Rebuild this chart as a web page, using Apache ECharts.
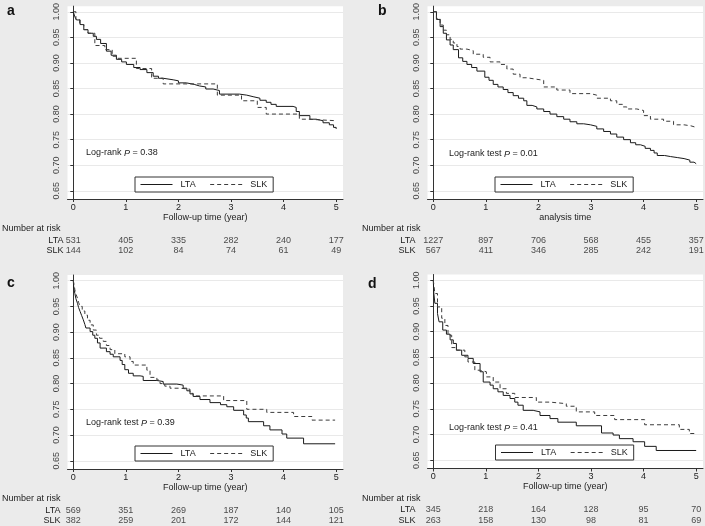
<!DOCTYPE html>
<html>
<head>
<meta charset="utf-8">
<script src="https://cdn.jsdelivr.net/npm/echarts@6/dist/echarts.min.js"></script>
<style>
  html, body { margin: 0; padding: 0; background: #ebebeb; }
  #main { width: 705px; height: 526px; }
</style>
</head>
<body>
<div id="main"></div>
<script>
// survival curves, [years, proportion surviving]
var aLTA = [[0,1],[0.03,0.99],[0.06,0.984],[0.13,0.975],[0.2,0.965],[0.28,0.958],[0.38,0.952],[0.44,0.946],
  [0.52,0.938],[0.63,0.923],[0.72,0.915],[0.82,0.907],[0.92,0.902],[1.01,0.897],[1.15,0.891],[1.27,0.887],
  [1.4,0.881],[1.52,0.874],[1.62,0.87],[1.71,0.867],[1.9,0.865],[2.0,0.861],[2.15,0.858],[2.3,0.855],
  [2.4,0.853],[2.52,0.849],[2.66,0.846],[2.78,0.839],[3.16,0.837],[3.3,0.834],[3.42,0.831],[3.55,0.827],
  [3.67,0.823],[3.76,0.819],[3.86,0.815],[4.18,0.813],[4.24,0.805],[4.3,0.797],[4.5,0.79],[4.62,0.787],
  [4.75,0.783],[4.87,0.779],[4.95,0.774],[5.0,0.771]];
var aSLK = [[0,1],[0.05,0.985],[0.12,0.975],[0.2,0.965],[0.28,0.958],[0.41,0.934],[0.6,0.926],[0.74,0.913],
  [0.82,0.909],[1.2,0.889],[1.49,0.87],[1.71,0.859],[2.74,0.837],[3.2,0.826],[3.5,0.813],[3.67,0.8],
  [4.3,0.79],[4.45,0.787],[5.0,0.787]];

var bLTA = [[0,1],[0.06,0.985],[0.13,0.971],[0.19,0.958],[0.25,0.945],[0.32,0.935],[0.38,0.926],[0.48,0.91],
  [0.56,0.903],[0.64,0.897],[0.73,0.891],[0.83,0.884],[0.98,0.872],[1.06,0.866],[1.14,0.858],[1.23,0.853],
  [1.33,0.848],[1.42,0.842],[1.52,0.836],[1.62,0.831],[1.72,0.826],[1.78,0.817],[1.88,0.814],[1.97,0.81],
  [2.1,0.805],[2.22,0.8],[2.35,0.795],[2.48,0.79],[2.6,0.785],[2.73,0.781],[2.86,0.779],[2.99,0.776],
  [3.11,0.771],[3.24,0.766],[3.37,0.761],[3.49,0.755],[3.62,0.75],[3.75,0.744],[3.85,0.74],[3.94,0.737],
  [4.03,0.733],[4.13,0.729],[4.2,0.724],[4.26,0.719],[4.4,0.717],[4.51,0.715],[4.64,0.713],[4.77,0.71],
  [4.88,0.706],[4.96,0.703],[5.0,0.702]];
var bSLK = [[0,1],[0.06,0.987],[0.13,0.974],[0.19,0.964],[0.25,0.955],[0.32,0.946],[0.38,0.939],[0.45,0.932],
  [0.51,0.927],[0.64,0.924],[0.76,0.917],[0.95,0.911],[1.08,0.902],[1.27,0.897],[1.4,0.888],[1.52,0.878],
  [1.65,0.871],[1.78,0.868],[1.97,0.866],[2.1,0.853],[2.35,0.847],[2.6,0.84],[2.99,0.837],[3.11,0.831],
  [3.37,0.826],[3.49,0.819],[3.6,0.814],[3.68,0.81],[3.87,0.807],[4.0,0.797],[4.13,0.79],[4.38,0.786],
  [4.57,0.779],[4.77,0.777],[4.9,0.774],[5.0,0.772]];

var cLTA = [[0,1],[0.01,0.985],[0.03,0.975],[0.05,0.965],[0.08,0.956],[0.1,0.948],[0.13,0.94],[0.16,0.932],
  [0.19,0.924],[0.22,0.915],[0.24,0.908],[0.32,0.901],[0.37,0.894],[0.41,0.888],[0.46,0.879],[0.51,0.869],
  [0.63,0.862],[0.7,0.857],[0.76,0.852],[0.89,0.845],[0.93,0.837],[0.98,0.827],[1.05,0.82],[1.14,0.815],
  [1.27,0.814],[1.33,0.806],[1.59,0.804],[1.71,0.799],[1.97,0.797],[2.09,0.791],[2.16,0.786],[2.22,0.78],
  [2.28,0.775],[2.41,0.769],[2.6,0.763],[2.8,0.759],[2.92,0.755],[3.05,0.748],[3.24,0.739],[3.29,0.733],
  [3.33,0.726],[3.62,0.718],[3.74,0.71],[3.97,0.702],[4.06,0.694],[4.38,0.683],[4.98,0.683]];
var cSLK = [[0,1],[0.02,0.99],[0.03,0.982],[0.05,0.974],[0.08,0.966],[0.1,0.958],[0.13,0.95],[0.17,0.941],
  [0.22,0.933],[0.27,0.923],[0.32,0.914],[0.38,0.904],[0.44,0.894],[0.5,0.888],[0.57,0.882],[0.63,0.874],
  [0.7,0.866],[0.79,0.858],[0.98,0.852],[1.08,0.843],[1.14,0.836],[1.4,0.826],[1.46,0.812],[1.59,0.807],
  [1.65,0.8],[1.74,0.795],[1.84,0.791],[2.03,0.789],[2.22,0.781],[2.28,0.776],[2.86,0.767],[3.3,0.75],
  [3.68,0.744],[4.19,0.736],[4.54,0.729],[4.98,0.729]];

var dLTA = [[0,1],[0.01,0.975],[0.03,0.955],[0.08,0.935],[0.11,0.919],[0.18,0.903],[0.25,0.895],[0.32,0.884],
  [0.38,0.877],[0.44,0.864],[0.54,0.854],[0.66,0.848],[0.76,0.838],[0.89,0.822],[0.95,0.802],[1.08,0.796],
  [1.14,0.789],[1.23,0.783],[1.33,0.776],[1.46,0.77],[1.55,0.763],[1.61,0.757],[1.71,0.747],[1.9,0.744],
  [2.03,0.737],[2.22,0.731],[2.37,0.724],[2.72,0.717],[3.2,0.703],[3.42,0.699],[3.54,0.692],[3.8,0.686],
  [4.02,0.677],[4.24,0.669],[5.0,0.669]];
var dSLK = [[0,1],[0.03,0.974],[0.08,0.948],[0.16,0.926],[0.22,0.912],[0.28,0.893],[0.35,0.869],[0.44,0.864],
  [0.6,0.851],[0.66,0.841],[0.79,0.825],[0.89,0.822],[1.01,0.812],[1.14,0.802],[1.27,0.789],[1.39,0.78],
  [1.55,0.772],[1.96,0.763],[2.22,0.76],[2.53,0.755],[2.72,0.744],[3.07,0.737],[3.45,0.729],[4.02,0.719],
  [4.68,0.71],[4.87,0.702],[5.0,0.702]];

// number at risk
var riskTimes = [0, 1, 2, 3, 4, 5];
var aRiskLTA = [531, 405, 335, 282, 240, 177];
var aRiskSLK = [144, 102, 84, 74, 61, 49];
var bRiskLTA = [1227, 897, 706, 568, 455, 357];
var bRiskSLK = [567, 411, 346, 285, 242, 191];
var cRiskLTA = [569, 351, 269, 187, 140, 105];
var cRiskSLK = [382, 259, 201, 172, 144, 121];
var dRiskLTA = [345, 218, 164, 128, 95, 70];
var dRiskSLK = [263, 158, 130, 98, 81, 69];

var yTicks = [0.65, 0.70, 0.75, 0.80, 0.85, 0.90, 0.95, 1.00];
var xTicks = [0, 1, 2, 3, 4, 5];

var FONT = '"Liberation Sans", Arial, sans-serif';
var INK = '#222';

var panels = [
  { tag: 'a', lta: aLTA, slk: aSLK, rLTA: aRiskLTA, rSLK: aRiskSLK, xName: 'Follow-up time (year)',
    test: 'Log-rank', p: '0.38', left: 67.5, top: 5, tagX: 7, tagY: 4, txtX: 86, txtY: 153,
    legX: 135, legY: 177, narX: 2, rowMargin: 4 },
  { tag: 'b', lta: bLTA, slk: bSLK, rLTA: bRiskLTA, rSLK: bRiskSLK, xName: 'analysis time',
    test: 'Log-rank test', p: '0.01', left: 427.5, top: 5, tagX: 378, tagY: 4, txtX: 449, txtY: 154,
    legX: 495, legY: 177, narX: 362, rowMargin: 12 },
  { tag: 'c', lta: cLTA, slk: cSLK, rLTA: cRiskLTA, rSLK: cRiskSLK, xName: 'Follow-up time (year)',
    test: 'Log-rank test', p: '0.39', left: 67.5, top: 275, tagX: 7, tagY: 276, txtX: 86, txtY: 423,
    legX: 135, legY: 446, narX: 2, rowMargin: 7 },
  { tag: 'd', lta: dLTA, slk: dSLK, rLTA: dRiskLTA, rSLK: dRiskSLK, xName: 'Follow-up time (year)',
    test: 'Log-rank test', p: '0.41', left: 427.5, top: 274.5, tagX: 368, tagY: 277, txtX: 449, txtY: 428,
    legX: 495.5, legY: 445, narX: 362, rowMargin: 12 }
];

var grid = [], xAxis = [], yAxis = [], series = [], legend = [], graphic = [];

panels.forEach(function (p, i) {
  var g = i * 2;
  grid.push({ left: p.left, top: p.top, width: 275.5, height: 194, show: true,
    backgroundColor: '#fff', borderWidth: 0 });
  grid.push({ left: p.left, top: p.top + 230, width: 275.5, height: 21 });

  xAxis.push({
    type: 'value', gridIndex: g, min: -0.11, max: 5.13,
    name: p.xName, nameLocation: 'middle', nameGap: 14,
    nameTextStyle: { fontFamily: FONT, fontSize: 9, color: INK },
    axisLine: { lineStyle: { color: '#333', width: 1 } },
    axisTick: { customValues: xTicks, length: 3, lineStyle: { color: '#333' } },
    axisLabel: { customValues: xTicks, margin: 4, fontFamily: FONT, fontSize: 9, color: INK },
    splitLine: { show: false }
  });
  xAxis.push({ type: 'value', gridIndex: g + 1, min: -0.11, max: 5.13, show: false });

  yAxis.push({
    type: 'value', gridIndex: g, min: 0.634, max: 1.011,
    axisLine: { show: true, lineStyle: { color: '#333', width: 1 } },
    axisTick: { show: true, customValues: yTicks, length: 3, lineStyle: { color: '#333' } },
    axisLabel: { customValues: yTicks, rotate: 90, margin: 6, fontFamily: FONT, fontSize: 9, color: '#444',
      formatter: function (v) { return v.toFixed(2); } },
    splitLine: { show: true, lineStyle: { color: '#e9e9e9', width: 1 } }
  });
  yAxis.push({
    type: 'category', gridIndex: g + 1, data: ['LTA', 'SLK'], inverse: true,
    axisLine: { show: false }, axisTick: { show: false }, splitLine: { show: false },
    axisLabel: { interval: 0, margin: p.rowMargin, fontFamily: FONT, fontSize: 9, color: INK }
  });

  series.push({ name: 'LTA', type: 'line', xAxisIndex: g, yAxisIndex: g, data: p.lta, step: 'end',
    symbol: 'none', lineStyle: { color: '#1a1a1a', width: 1 }, itemStyle: { color: '#1a1a1a' } });
  series.push({ name: 'SLK', type: 'line', xAxisIndex: g, yAxisIndex: g, data: p.slk, step: 'end',
    symbol: 'none', lineStyle: { color: '#3c3c3c', width: 1, type: [4, 3] }, itemStyle: { color: '#3c3c3c' } });

  [['LTA', p.rLTA], ['SLK', p.rSLK]].forEach(function (row) {
    series.push({
      type: 'scatter', xAxisIndex: g + 1, yAxisIndex: g + 1, symbolSize: 0, silent: true,
      data: riskTimes.map(function (t, k) { return [t, row[0], row[1][k]]; }),
      label: { show: true, position: 'inside', fontFamily: FONT, fontSize: 9, color: INK,
        formatter: function (d) { return d.value[2]; } }
    });
  });

  legend.push({
    data: ['LTA', 'SLK'], left: p.legX, top: p.legY, orient: 'horizontal',
    backgroundColor: '#fff', borderColor: '#333', borderWidth: 1, borderRadius: 0,
    padding: [3, 6, 3, 5], itemWidth: 32, itemHeight: 10, itemGap: 14,
    selectedMode: false,
    itemStyle: { opacity: 0 },
    lineStyle: { width: 1 },
    textStyle: { fontFamily: FONT, fontSize: 9, color: INK, padding: [0, 0, 0, 3] }
  });

  graphic.push({ type: 'text', left: p.tagX, top: p.tagY,
    style: { text: p.tag, font: 'bold 14px ' + FONT, fill: '#111' } });
  graphic.push({ type: 'text', x: p.txtX, y: p.txtY,
    style: { text: '{n|' + p.test + ' }{i|P}{n| = ' + p.p + '}', verticalAlign: 'middle',
      rich: { n: { fontFamily: FONT, fontSize: 9, fill: INK },
              i: { fontFamily: FONT, fontSize: 9, fontStyle: 'italic', fill: INK } } } });
  graphic.push({ type: 'text', x: p.narX, y: p.top + 224,
    style: { text: 'Number at risk', fontFamily: FONT, fontSize: 9, fill: INK, verticalAlign: 'middle' } });
});

var chart = echarts.init(document.getElementById('main'));
chart.setOption({
  backgroundColor: '#ebebeb',
  animation: false,
  grid: grid, xAxis: xAxis, yAxis: yAxis,
  legend: legend, series: series, graphic: graphic
});
</script>
</body>
</html>
